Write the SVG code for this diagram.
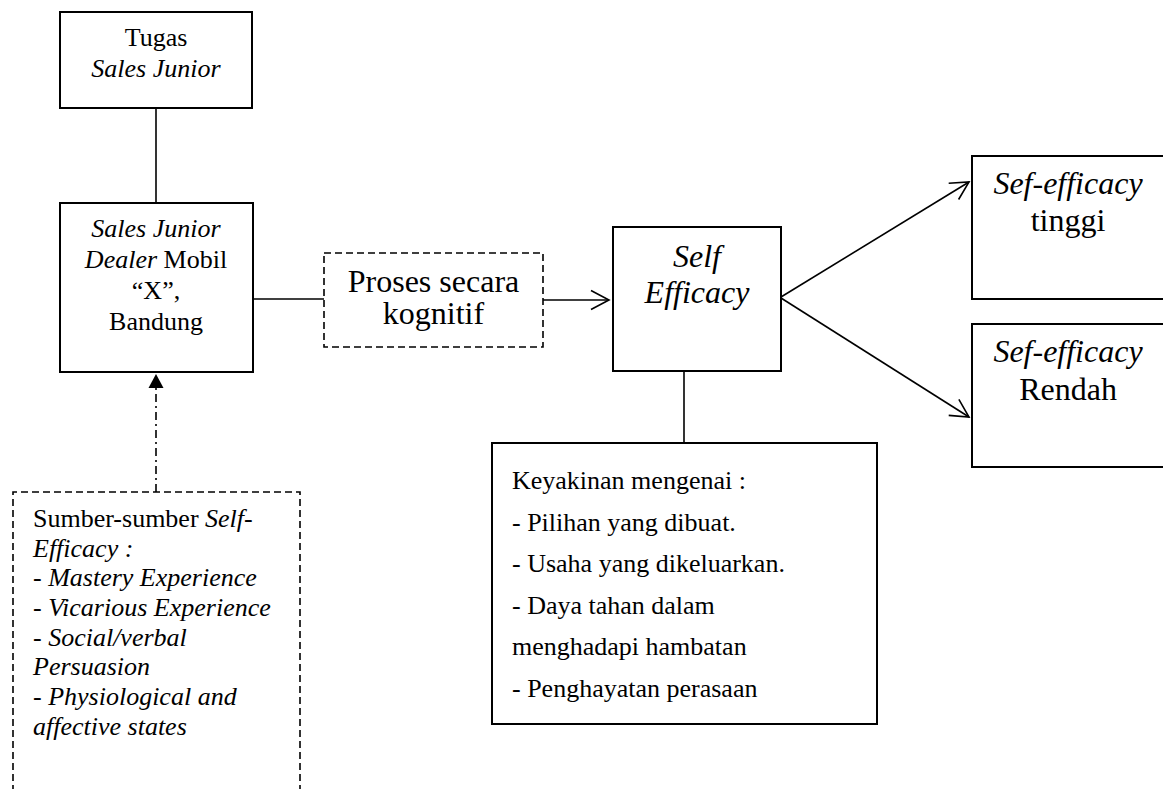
<svg xmlns="http://www.w3.org/2000/svg" width="1163" height="789" viewBox="0 0 1163 789">
<style>
text{font-family:"Liberation Serif","Times New Roman",serif;fill:#000}
.f26{font-size:26px}
.f32{font-size:32px}
.it{font-style:italic}
.mid{text-anchor:middle}
.box{fill:#fff;stroke:#000;stroke-width:2}
.dbox{fill:#fff;stroke:#000;stroke-width:1.6;stroke-dasharray:7 4}
.ln{fill:none;stroke:#000;stroke-width:1.6}
</style>
<defs>
<marker id="open" markerUnits="userSpaceOnUse" viewBox="-22 -12 24 24" refX="0" refY="0" markerWidth="24" markerHeight="24" orient="auto">
<path d="M-18,-9.5 L0,0 L-18,9.5" fill="none" stroke="#000" stroke-width="1.6"/>
</marker>
<marker id="solid" markerUnits="userSpaceOnUse" viewBox="-16 -9 18 18" refX="0" refY="0" markerWidth="18" markerHeight="18" orient="auto">
<path d="M-14,-7.5 L0,0 L-14,7.5 Z" fill="#000"/>
</marker>
</defs>
<rect width="1163" height="789" fill="#fff"/>
<g id="connectors">
<line class="ln" x1="156" y1="108" x2="156" y2="203"/>
<line class="ln" x1="253" y1="299" x2="324" y2="299"/>
<line class="ln" x1="543" y1="300" x2="609" y2="300" marker-end="url(#open)"/>
<line class="ln" x1="781" y1="297" x2="969" y2="182" marker-end="url(#open)"/>
<line class="ln" x1="781" y1="298" x2="969" y2="417" marker-end="url(#open)"/>
<line class="ln" x1="684" y1="371" x2="684" y2="443"/>
<line class="ln" x1="156" y1="492" x2="156" y2="374" stroke-dasharray="8 4 2 4" marker-end="url(#solid)"/>
</g>
<g id="tugas">
<rect class="box" x="60" y="12" width="192" height="96"/>
<text class="f26 mid" x="156" y="46">Tugas</text>
<text class="f26 mid it" x="156" y="77">Sales Junior</text>
</g>
<g id="sales">
<rect class="box" x="60" y="203" width="193" height="169"/>
<text class="f26 mid it" x="156" y="237">Sales Junior</text>
<text class="f26 mid" x="156" y="268"><tspan class="it">Dealer</tspan> Mobil</text>
<text class="f26 mid" x="156" y="299">“X”,</text>
<text class="f26 mid" x="156" y="330">Bandung</text>
</g>
<g id="proses">
<rect class="dbox" x="324" y="253" width="219" height="94"/>
<text class="f32 mid" x="433.5" y="292">Proses secara</text>
<text class="f32 mid" x="433.5" y="324">kognitif</text>
</g>
<g id="selfefficacy">
<rect class="box" x="613" y="227" width="168" height="144"/>
<text class="f32 mid it" x="697" y="267">Self</text>
<text class="f32 mid it" x="697" y="303">Efficacy</text>
</g>
<g id="tinggi">
<rect class="box" x="972" y="156" width="195" height="143"/>
<text class="f32 mid it" x="1068" y="194">Sef-efficacy</text>
<text class="f32 mid" x="1068" y="231">tinggi</text>
</g>
<g id="rendah">
<rect class="box" x="972" y="324" width="195" height="143"/>
<text class="f32 mid it" x="1068" y="362">Sef-efficacy</text>
<text class="f32 mid" x="1068" y="400">Rendah</text>
</g>
<g id="keyakinan">
<rect class="box" x="492" y="443" width="385" height="281"/>
<text class="f26" x="512" y="489">Keyakinan mengenai :</text>
<text class="f26" x="512" y="531">- Pilihan yang dibuat.</text>
<text class="f26" x="512" y="572">- Usaha yang dikeluarkan.</text>
<text class="f26" x="512" y="614">- Daya tahan dalam</text>
<text class="f26" x="512" y="655">menghadapi hambatan</text>
<text class="f26" x="512" y="697">- Penghayatan perasaan</text>
</g>
<g id="sumber">
<path d="M13,792 V492 H300 V792" fill="#fff" stroke="#000" stroke-width="1.6" stroke-dasharray="7 4"/>
<text class="f26" x="33" y="527">Sumber-sumber <tspan class="it">Self-</tspan></text>
<text class="f26 it" x="33" y="557">Efficacy :</text>
<text class="f26 it" x="33" y="586">- Mastery Experience</text>
<text class="f26 it" x="33" y="616">- Vicarious Experience</text>
<text class="f26 it" x="33" y="646">- Social/verbal</text>
<text class="f26 it" x="33" y="675">Persuasion</text>
<text class="f26 it" x="33" y="705">- Physiological and</text>
<text class="f26 it" x="33" y="735">affective states</text>
</g>
</svg>
